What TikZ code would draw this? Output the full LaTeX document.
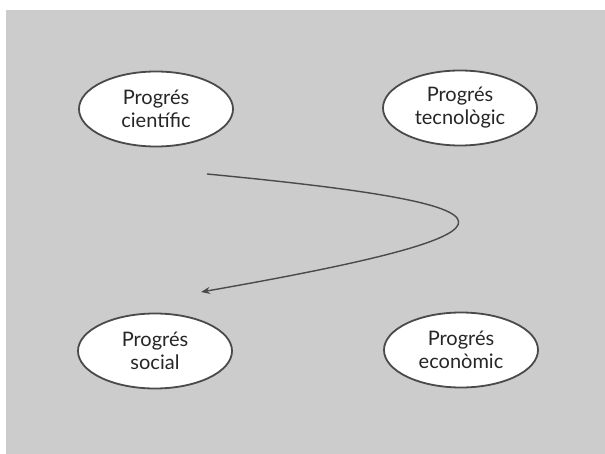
\documentclass[tikz,border=0pt]{standalone}
\usepackage{fontspec}
\setmainfont{Lato}
\usetikzlibrary{shapes.geometric,arrows.meta}
\definecolor{panel}{HTML}{CCCCCC}
\definecolor{rim}{HTML}{4A4A4A}
\tikzset{
  bubble/.style={ellipse, draw=rim, line width=1.8pt, fill=white,
    minimum width=154pt, minimum height=75pt, inner sep=0pt,
    align=center, font=\fontsize{20}{23}\selectfont, text=black!85},
  flow/.style={draw=rim, line width=1.4pt, -{Stealth[length=9pt,width=7pt]}}
}
\begin{document}
\begin{tikzpicture}[x=1pt,y=-1pt]
  \useasboundingbox (0,0) rectangle (605,454);
  \fill[panel] (6,10) rectangle (605,454);

  \node[bubble] (cie) at (156,109) {Progrés\\científic};
  \node[bubble] (tec) at (460,108) {Progrés\\tecnològic};
  \node[bubble] (soc) at (155,351) {Progrés\\social};
  \node[bubble] (eco) at (461,350) {Progrés\\econòmic};

  \coordinate (start) at (207,174);
  \coordinate (finish) at (201,292);
  \draw[flow] (start) .. controls (530,205) and (555,230) .. (finish);
\end{tikzpicture}
\end{document}
